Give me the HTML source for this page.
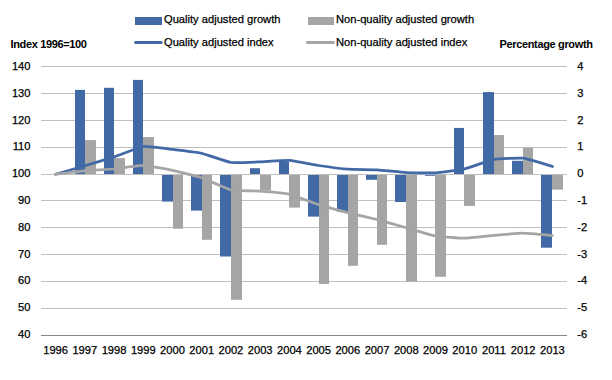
<!DOCTYPE html><html><head><meta charset="utf-8"><style>html,body{margin:0;padding:0;background:#fff;width:612px;height:380px;overflow:hidden;position:relative}</style></head><body><svg width="612" height="380" viewBox="0 0 612 380" style="position:absolute;left:0;top:0">
<rect width="612" height="380" fill="#fff"/>
<rect x="41" y="66" width="526" height="1" fill="#BFBFBF"/>
<rect x="41" y="93" width="526" height="1" fill="#BFBFBF"/>
<rect x="41" y="120" width="526" height="1" fill="#BFBFBF"/>
<rect x="41" y="147" width="526" height="1" fill="#BFBFBF"/>
<rect x="41" y="174" width="526" height="1" fill="#BFBFBF"/>
<rect x="41" y="200" width="526" height="1" fill="#BFBFBF"/>
<rect x="41" y="227" width="526" height="1" fill="#BFBFBF"/>
<rect x="41" y="254" width="526" height="1" fill="#BFBFBF"/>
<rect x="41" y="281" width="526" height="1" fill="#BFBFBF"/>
<rect x="41" y="308" width="526" height="1" fill="#BFBFBF"/>
<rect x="41" y="335" width="526" height="1" fill="#868686"/>
<rect x="75" y="89.90" width="10.00" height="84.10" fill="#4169A6"/>
<rect x="85" y="140.10" width="11.00" height="33.90" fill="#A5A5A5"/>
<rect x="104" y="87.80" width="10.00" height="86.20" fill="#4169A6"/>
<rect x="114" y="158.10" width="11.00" height="15.90" fill="#A5A5A5"/>
<rect x="133" y="79.90" width="10.00" height="94.10" fill="#4169A6"/>
<rect x="143" y="137.05" width="11.00" height="36.95" fill="#A5A5A5"/>
<rect x="162" y="175.00" width="11.00" height="26.60" fill="#4169A6"/>
<rect x="173" y="175.00" width="10.00" height="53.70" fill="#A5A5A5"/>
<rect x="191" y="175.00" width="11.00" height="35.60" fill="#4169A6"/>
<rect x="202" y="175.00" width="10.00" height="64.80" fill="#A5A5A5"/>
<rect x="220" y="175.00" width="11.00" height="81.50" fill="#4169A6"/>
<rect x="231" y="175.00" width="11.00" height="124.80" fill="#A5A5A5"/>
<rect x="250" y="168.20" width="10.00" height="5.80" fill="#4169A6"/>
<rect x="260" y="175.00" width="11.00" height="15.30" fill="#A5A5A5"/>
<rect x="279" y="161.60" width="10.00" height="12.40" fill="#4169A6"/>
<rect x="289" y="175.00" width="11.00" height="32.60" fill="#A5A5A5"/>
<rect x="308" y="175.00" width="11.00" height="41.60" fill="#4169A6"/>
<rect x="319" y="175.00" width="10.00" height="108.95" fill="#A5A5A5"/>
<rect x="337" y="175.00" width="11.00" height="36.90" fill="#4169A6"/>
<rect x="348" y="175.00" width="10.00" height="90.80" fill="#A5A5A5"/>
<rect x="366" y="175.00" width="11.00" height="4.80" fill="#4169A6"/>
<rect x="377" y="175.00" width="10.00" height="69.80" fill="#A5A5A5"/>
<rect x="395" y="175.00" width="11.00" height="27.00" fill="#4169A6"/>
<rect x="406" y="175.00" width="11.00" height="106.40" fill="#A5A5A5"/>
<rect x="425" y="175.00" width="10.00" height="0.80" fill="#4169A6"/>
<rect x="435" y="175.00" width="11.00" height="101.80" fill="#A5A5A5"/>
<rect x="454" y="127.90" width="10.00" height="46.10" fill="#4169A6"/>
<rect x="464" y="175.00" width="11.00" height="30.90" fill="#A5A5A5"/>
<rect x="483" y="92.10" width="11.00" height="81.90" fill="#4169A6"/>
<rect x="494" y="135.05" width="10.00" height="38.95" fill="#A5A5A5"/>
<rect x="512" y="160.80" width="11.00" height="13.20" fill="#4169A6"/>
<rect x="523" y="147.70" width="10.00" height="26.30" fill="#A5A5A5"/>
<rect x="541" y="175.00" width="11.00" height="72.70" fill="#4169A6"/>
<rect x="552" y="175.00" width="11.00" height="14.60" fill="#A5A5A5"/>
<path d="M55.61,174.30 C57.36,173.79 81.33,166.84 84.83,165.80 C88.34,164.76 110.55,158.06 114.06,156.90 C117.56,155.74 139.77,146.95 143.28,146.50 C146.78,146.05 168.99,148.99 172.50,149.40 C176.01,149.81 198.22,152.51 201.72,153.30 C205.23,154.09 227.44,161.98 230.94,162.50 C234.45,163.02 256.66,162.03 260.17,161.90 C263.67,161.77 285.88,160.18 289.39,160.40 C292.90,160.62 315.10,164.97 318.61,165.50 C322.12,166.03 344.33,168.94 347.83,169.20 C351.34,169.46 373.55,169.60 377.06,169.80 C380.56,170.00 402.77,172.42 406.28,172.60 C409.78,172.78 431.99,173.03 435.50,172.80 C439.01,172.57 461.22,169.60 464.72,168.80 C468.23,168.00 490.44,160.04 493.94,159.40 C497.45,158.76 519.66,157.77 523.17,158.20 C526.67,158.63 550.64,166.00 552.39,166.50" fill="none" stroke="#4169A6" stroke-width="2.75" stroke-linejoin="round" stroke-linecap="round"/>
<path d="M55.61,174.30 C57.36,174.09 81.33,171.12 84.83,170.80 C88.34,170.48 110.55,169.32 114.06,169.00 C117.56,168.68 139.77,165.32 143.28,165.40 C146.78,165.48 168.99,169.56 172.50,170.30 C176.01,171.04 198.22,176.62 201.72,177.80 C205.23,178.98 227.44,189.10 230.94,189.90 C234.45,190.70 256.66,190.94 260.17,191.20 C263.67,191.46 285.88,193.50 289.39,194.30 C292.90,195.10 315.10,203.50 318.61,204.60 C322.12,205.70 344.33,211.81 347.83,212.70 C351.34,213.59 373.55,218.59 377.06,219.50 C380.56,220.41 402.77,226.81 406.28,227.80 C409.78,228.79 431.99,235.38 435.50,236.00 C439.01,236.62 461.22,238.24 464.72,238.20 C468.23,238.16 490.44,235.70 493.94,235.40 C497.45,235.10 519.66,233.19 523.17,233.20 C526.67,233.21 550.64,235.36 552.39,235.50" fill="none" stroke="#A5A5A5" stroke-width="2.75" stroke-linejoin="round" stroke-linecap="round"/>
<rect x="135" y="17" width="27" height="8" fill="#4169A6"/>
<rect x="308" y="17" width="26" height="8" fill="#A5A5A5"/>
<line x1="135.6" y1="42.4" x2="161.2" y2="42.4" stroke="#4169A6" stroke-width="3" stroke-linecap="round"/>
<line x1="307.5" y1="42.4" x2="333.5" y2="42.4" stroke="#A5A5A5" stroke-width="3" stroke-linecap="round"/>
<text x="164" y="23" font-family="Liberation Sans, sans-serif" font-size="11.15" fill="#000" stroke="#000" stroke-width="0.25">Quality adjusted growth</text>
<text x="336" y="23" font-family="Liberation Sans, sans-serif" font-size="11.15" fill="#000" stroke="#000" stroke-width="0.25">Non-quality adjusted growth</text>
<text x="164" y="46" font-family="Liberation Sans, sans-serif" font-size="11.15" fill="#000" stroke="#000" stroke-width="0.25">Quality adjusted index</text>
<text x="336" y="46" font-family="Liberation Sans, sans-serif" font-size="11.15" fill="#000" stroke="#000" stroke-width="0.25">Non-quality adjusted index</text>
<text x="10.5" y="48" font-family="Liberation Sans, sans-serif" font-size="11" font-weight="bold" letter-spacing="-0.35" fill="#000">Index 1996=100</text>
<text x="499.5" y="48" font-family="Liberation Sans, sans-serif" font-size="11" font-weight="bold" letter-spacing="-0.35" fill="#000">Percentage growth</text>
<text x="30.5" y="70.0" text-anchor="end" font-family="Liberation Sans, sans-serif" font-size="11.15" fill="#000" stroke="#000" stroke-width="0.25">140</text>
<text x="577.2" y="70.0" font-family="Liberation Sans, sans-serif" font-size="11.15" fill="#000" stroke="#000" stroke-width="0.25">4</text>
<text x="30.5" y="96.8" text-anchor="end" font-family="Liberation Sans, sans-serif" font-size="11.15" fill="#000" stroke="#000" stroke-width="0.25">130</text>
<text x="577.2" y="96.8" font-family="Liberation Sans, sans-serif" font-size="11.15" fill="#000" stroke="#000" stroke-width="0.25">3</text>
<text x="30.5" y="123.6" text-anchor="end" font-family="Liberation Sans, sans-serif" font-size="11.15" fill="#000" stroke="#000" stroke-width="0.25">120</text>
<text x="577.2" y="123.6" font-family="Liberation Sans, sans-serif" font-size="11.15" fill="#000" stroke="#000" stroke-width="0.25">2</text>
<text x="30.5" y="150.4" text-anchor="end" font-family="Liberation Sans, sans-serif" font-size="11.15" fill="#000" stroke="#000" stroke-width="0.25">110</text>
<text x="577.2" y="150.4" font-family="Liberation Sans, sans-serif" font-size="11.15" fill="#000" stroke="#000" stroke-width="0.25">1</text>
<text x="30.5" y="177.2" text-anchor="end" font-family="Liberation Sans, sans-serif" font-size="11.15" fill="#000" stroke="#000" stroke-width="0.25">100</text>
<text x="577.2" y="177.2" font-family="Liberation Sans, sans-serif" font-size="11.15" fill="#000" stroke="#000" stroke-width="0.25">0</text>
<text x="30.5" y="204.0" text-anchor="end" font-family="Liberation Sans, sans-serif" font-size="11.15" fill="#000" stroke="#000" stroke-width="0.25">90</text>
<text x="577.2" y="204.0" font-family="Liberation Sans, sans-serif" font-size="11.15" fill="#000" stroke="#000" stroke-width="0.25">-1</text>
<text x="30.5" y="230.8" text-anchor="end" font-family="Liberation Sans, sans-serif" font-size="11.15" fill="#000" stroke="#000" stroke-width="0.25">80</text>
<text x="577.2" y="230.8" font-family="Liberation Sans, sans-serif" font-size="11.15" fill="#000" stroke="#000" stroke-width="0.25">-2</text>
<text x="30.5" y="257.6" text-anchor="end" font-family="Liberation Sans, sans-serif" font-size="11.15" fill="#000" stroke="#000" stroke-width="0.25">70</text>
<text x="577.2" y="257.6" font-family="Liberation Sans, sans-serif" font-size="11.15" fill="#000" stroke="#000" stroke-width="0.25">-3</text>
<text x="30.5" y="284.4" text-anchor="end" font-family="Liberation Sans, sans-serif" font-size="11.15" fill="#000" stroke="#000" stroke-width="0.25">60</text>
<text x="577.2" y="284.4" font-family="Liberation Sans, sans-serif" font-size="11.15" fill="#000" stroke="#000" stroke-width="0.25">-4</text>
<text x="30.5" y="311.2" text-anchor="end" font-family="Liberation Sans, sans-serif" font-size="11.15" fill="#000" stroke="#000" stroke-width="0.25">50</text>
<text x="577.2" y="311.2" font-family="Liberation Sans, sans-serif" font-size="11.15" fill="#000" stroke="#000" stroke-width="0.25">-5</text>
<text x="30.5" y="338.0" text-anchor="end" font-family="Liberation Sans, sans-serif" font-size="11.15" fill="#000" stroke="#000" stroke-width="0.25">40</text>
<text x="577.2" y="338.0" font-family="Liberation Sans, sans-serif" font-size="11.15" fill="#000" stroke="#000" stroke-width="0.25">-6</text>
<text x="55.61" y="354" text-anchor="middle" font-family="Liberation Sans, sans-serif" font-size="11.15" fill="#000" stroke="#000" stroke-width="0.25">1996</text>
<text x="84.83" y="354" text-anchor="middle" font-family="Liberation Sans, sans-serif" font-size="11.15" fill="#000" stroke="#000" stroke-width="0.25">1997</text>
<text x="114.06" y="354" text-anchor="middle" font-family="Liberation Sans, sans-serif" font-size="11.15" fill="#000" stroke="#000" stroke-width="0.25">1998</text>
<text x="143.28" y="354" text-anchor="middle" font-family="Liberation Sans, sans-serif" font-size="11.15" fill="#000" stroke="#000" stroke-width="0.25">1999</text>
<text x="172.50" y="354" text-anchor="middle" font-family="Liberation Sans, sans-serif" font-size="11.15" fill="#000" stroke="#000" stroke-width="0.25">2000</text>
<text x="201.72" y="354" text-anchor="middle" font-family="Liberation Sans, sans-serif" font-size="11.15" fill="#000" stroke="#000" stroke-width="0.25">2001</text>
<text x="230.94" y="354" text-anchor="middle" font-family="Liberation Sans, sans-serif" font-size="11.15" fill="#000" stroke="#000" stroke-width="0.25">2002</text>
<text x="260.17" y="354" text-anchor="middle" font-family="Liberation Sans, sans-serif" font-size="11.15" fill="#000" stroke="#000" stroke-width="0.25">2003</text>
<text x="289.39" y="354" text-anchor="middle" font-family="Liberation Sans, sans-serif" font-size="11.15" fill="#000" stroke="#000" stroke-width="0.25">2004</text>
<text x="318.61" y="354" text-anchor="middle" font-family="Liberation Sans, sans-serif" font-size="11.15" fill="#000" stroke="#000" stroke-width="0.25">2005</text>
<text x="347.83" y="354" text-anchor="middle" font-family="Liberation Sans, sans-serif" font-size="11.15" fill="#000" stroke="#000" stroke-width="0.25">2006</text>
<text x="377.06" y="354" text-anchor="middle" font-family="Liberation Sans, sans-serif" font-size="11.15" fill="#000" stroke="#000" stroke-width="0.25">2007</text>
<text x="406.28" y="354" text-anchor="middle" font-family="Liberation Sans, sans-serif" font-size="11.15" fill="#000" stroke="#000" stroke-width="0.25">2008</text>
<text x="435.50" y="354" text-anchor="middle" font-family="Liberation Sans, sans-serif" font-size="11.15" fill="#000" stroke="#000" stroke-width="0.25">2009</text>
<text x="464.72" y="354" text-anchor="middle" font-family="Liberation Sans, sans-serif" font-size="11.15" fill="#000" stroke="#000" stroke-width="0.25">2010</text>
<text x="493.94" y="354" text-anchor="middle" font-family="Liberation Sans, sans-serif" font-size="11.15" fill="#000" stroke="#000" stroke-width="0.25">2011</text>
<text x="523.17" y="354" text-anchor="middle" font-family="Liberation Sans, sans-serif" font-size="11.15" fill="#000" stroke="#000" stroke-width="0.25">2012</text>
<text x="552.39" y="354" text-anchor="middle" font-family="Liberation Sans, sans-serif" font-size="11.15" fill="#000" stroke="#000" stroke-width="0.25">2013</text>
</svg></body></html>
